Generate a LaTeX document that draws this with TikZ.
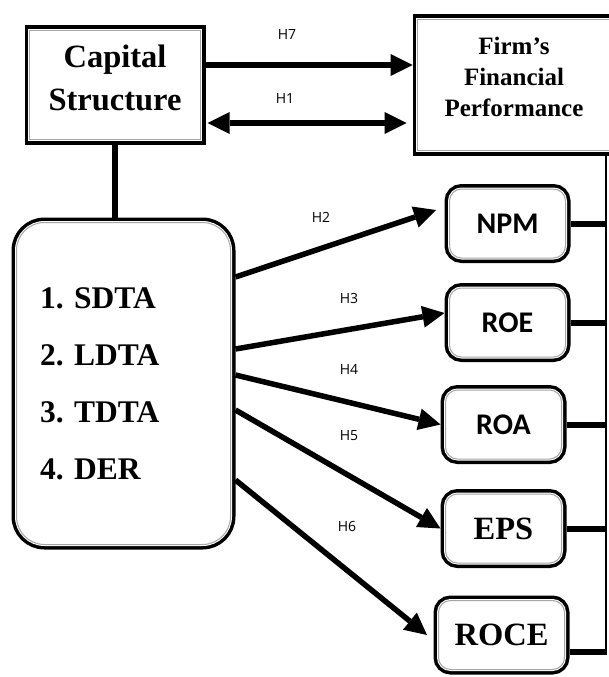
\documentclass[tikz,border=0pt]{standalone}
\usepackage{fontspec}
\setmainfont{Liberation Serif}
\newfontfamily\boxsans{Carlito}
\newfontfamily\hypfont{Open Sans}
\usetikzlibrary{
  arrows.meta,
  positioning,
}
\tikzstyle{framed} = [
rectangle,
draw=gray!70,
line width=1pt,
fill=white,
preaction={draw=black, line width=10pt},
preaction={draw=white, line width=3pt},
outer sep=5pt,
inner sep=0pt,
align=center,
font=\bfseries
]
\tikzstyle{rframed} = [
framed,
rounded corners=12pt
]
\tikzstyle{metric} = [
rframed,
minimum width=116pt,
minimum height=69pt
]
\tikzstyle{arrow} = [draw, line width=5.5pt, >={Triangle[length=22pt,width=22pt,line width=0pt]}, ->]
\tikzstyle{link} = [draw, line width=6pt]
\tikzstyle{hyp} = [font=\hypfont\fontsize{14}{16}\selectfont, inner sep=0pt]

\begin{document}
\begin{tikzpicture}[x=1pt, y=-1pt]
  \useasboundingbox (0,0) rectangle (609,677);
  % Place nodes
  \node [framed, minimum width=171pt, minimum height=109pt, text depth=14.5pt,
         font=\bfseries\fontsize{32.5}{43}\selectfont] (capital) at (115,85) {Capital\\Structure};
  \node [framed, minimum width=193pt, minimum height=131pt, text depth=16.5pt,
         font=\bfseries\fontsize{25}{31}\selectfont] (firm) at (514,85) {Firm’s\\Financial\\Performance};

  \node [framed, rounded corners=28pt, minimum height=322pt, text width=167pt,
         inner xsep=23.5pt, align=left,
         font=\bfseries\fontsize{31.5}{57}\selectfont] (list) at (123.5,383.5)
         {1.\ SDTA\\2.\ LDTA\\3.\ TDTA\\4.\ DER};

  \node [metric, font=\boxsans\bfseries\fontsize{30}{30}\selectfont] (npm) at (507.5,223.5) {NPM};
  \node [metric, font=\boxsans\bfseries\fontsize{30}{30}\selectfont] (roe) at (507.5,322.5) {ROE};
  \node [metric, font=\boxsans\bfseries\fontsize{30}{30}\selectfont] (roa) at (503.5,424.5) {ROA};
  \node [metric, font=\bfseries\fontsize{32.5}{34}\selectfont] (eps) at (503.5,528.5) {EPS};
  \node [metric, minimum width=126pt, font=\bfseries\fontsize{32.5}{34}\selectfont] (roce) at (501.5,635) {ROCE};

  \node [hyp] (h7) at (287,35) {H7};
  \node [hyp] (h1) at (285,99) {H1};
  \node [hyp] (h2) at (321,217) {H2};
  \node [hyp] (h3) at (349,298) {H3};
  \node [hyp] (h4) at (349,369) {H4};
  \node [hyp] (h5) at (349,436) {H5};
  \node [hyp] (h6) at (347,526) {H6};

  \coordinate (bus) at (606,155);
  \coordinate (roceout) at ([yshift=-17pt]roce.east);

  % Draw edges
  \path [link] (capital.south) -- (capital.south |- list.north);
  \path [arrow] ([yshift=20pt]capital.east) -- ([yshift=20pt]capital.east -| firm.west);
  \path [arrow, <->, shorten <=2pt, shorten >=6pt] ([yshift=-38pt]capital.east) -- ([yshift=-38pt]capital.east -| firm.west);

  \path [arrow] ([yshift=106.5pt]list.east) -- ([xshift=-8.5pt,yshift=13.5pt]npm.west);
  \path [arrow] ([yshift=34.5pt]list.east) -- ([yshift=9.5pt]roe.west);
  \path [arrow] ([yshift=8.5pt]list.east) -- (roa.west);
  \path [arrow] ([yshift=-26.5pt]list.east) -- (eps.west);
  \path [arrow] ([yshift=-96.5pt]list.east) -- ([xshift=-6.5pt]roce.west);

  \path [draw, line width=2pt] (bus) -- ([yshift=-3pt]bus |- roceout);
  \path [link] (npm.east) -- (npm.east -| bus);
  \path [link] (roe.east) -- (roe.east -| bus);
  \path [link] (roa.east) -- (roa.east -| bus);
  \path [link] (eps.east) -- (eps.east -| bus);
  \path [link] (roce.east |- roceout) -- (roceout -| bus);

\end{tikzpicture}
\end{document}
